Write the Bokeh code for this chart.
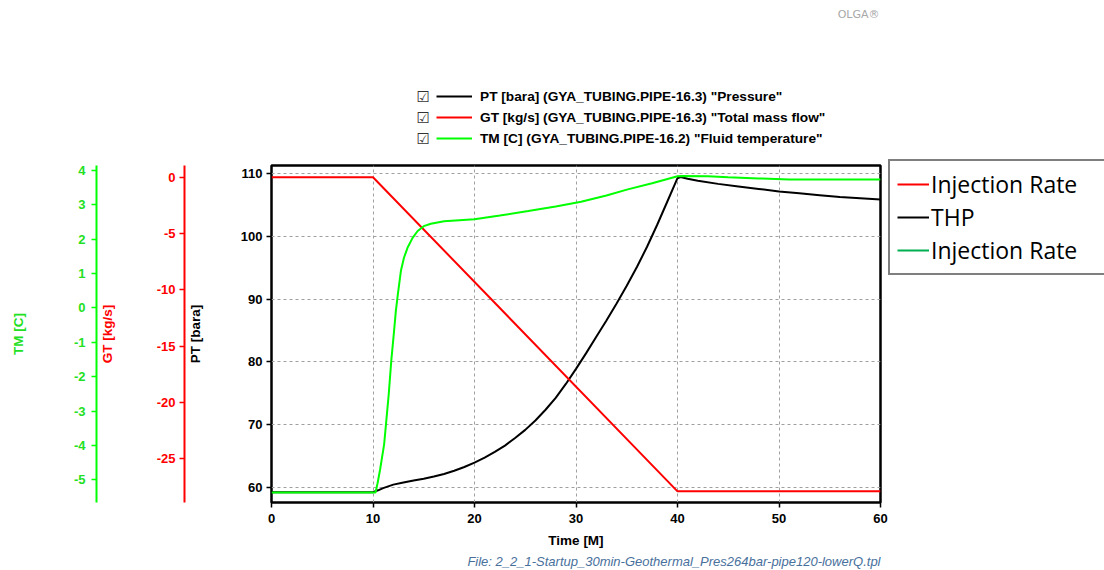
from bokeh.plotting import figure
from bokeh.layouts import column, row
from bokeh.models import (Range1d, LinearAxis, FixedTicker, Legend, LegendItem,
                          Label, Title)
from bokeh.embed import file_html
from bokeh.resources import INLINE

# ---------------- data ----------------
pt_time = [0, 10, 10.5, 11, 12, 13, 14, 15, 16, 17, 18, 19, 20, 21, 22, 23, 24,
           25, 26, 27, 28, 29, 30, 31, 32, 33, 34, 35, 36, 37, 38, 39, 40, 40.3,
           41, 42, 44, 46, 48, 50, 52, 54, 56, 58, 60]
pt_bara = [59.3, 59.3, 59.6, 59.95, 60.5, 60.85, 61.15, 61.45, 61.8, 62.2, 62.7,
           63.3, 64.0, 64.8, 65.7, 66.7, 67.9, 69.2, 70.7, 72.4, 74.3, 76.5, 78.9,
           81.4, 84.0, 86.6, 89.3, 92.1, 95.1, 98.3, 101.8, 105.5, 109.2, 109.4,
           109.1, 108.8, 108.3, 107.9, 107.5, 107.1, 106.8, 106.5, 106.2, 106.0,
           105.8]

gt_time = [0, 10, 40, 60]
gt_kgs = [0.0, 0.0, -27.9, -27.9]

tm_time = [0, 10, 10.25, 10.45, 10.7, 11.1, 11.55, 11.8, 12.05, 12.25, 12.45,
           12.75, 13.05, 13.4, 13.9, 14.4, 15.0, 15.7, 17.0, 20.0, 22.5, 25.3,
           28.0, 30.5, 33.0, 35.1, 37.5, 40.0, 40.4, 43.0, 45.0, 48.0, 51.0, 60.0]
tm_c = [-5.37, -5.37, -5.37, -5.1, -4.7, -3.96, -2.51, -1.54, -0.75, -0.09, 0.4,
        1.08, 1.46, 1.75, 2.04, 2.24, 2.38, 2.45, 2.52, 2.58, 2.69, 2.82, 2.95,
        3.09, 3.27, 3.45, 3.63, 3.83, 3.84, 3.83, 3.80, 3.77, 3.74, 3.74]

x_ticks = [0, 10, 20, 30, 40, 50, 60]
pt_ticks = [60, 70, 80, 90, 100, 110]
gt_ticks = [-25, -20, -15, -10, -5, 0]
tm_ticks = [-5, -4, -3, -2, -1, 0, 1, 2, 3, 4]

top_legend_labels = ['PT [bara] (GYA_TUBING.PIPE-16.3) "Pressure"',
                     'GT [kg/s] (GYA_TUBING.PIPE-16.3) "Total mass flow"',
                     'TM [C] (GYA_TUBING.PIPE-16.2) "Fluid temperature"']
right_legend_labels = ["Injection Rate", "THP", "Injection Rate"]
caption = "File: 2_2_1-Startup_30min-Geothermal_Pres264bar-pipe120-lowerQ.tpl"
brand = "OLGA\u00ae"

# ---------------- styling ----------------
FONT = "Liberation Sans"
GREEN = "#00ff00"
GREEN_TXT = "#22e022"
RED = "#ff0000"
LEFT_W = 888          # header + trend plot width
SIDE_W = 1104 - LEFT_W
HEAD_H = 155
MAIN_H = 570 - HEAD_H
B_LEFT, B_RIGHT = 271, 8


def bare(fig):
    fig.outline_line_color = None
    fig.xgrid.visible = False
    fig.ygrid.visible = False
    fig.background_fill_color = "white"
    fig.border_fill_color = "white"


# ================= header: trend legend with check boxes =================
head = figure(width=LEFT_W, height=HEAD_H, output_backend="svg",
              toolbar_location=None, x_range=Range1d(0, 60),
              y_range=Range1d(57.66, 111.22),
              min_border_left=B_LEFT, min_border_right=B_RIGHT,
              min_border_top=0, min_border_bottom=0,
              x_axis_location=None, y_axis_location=None)
bare(head)
h_pt = head.line(pt_time, pt_bara, line_color="black", line_width=2, visible=False)
h_gt = head.line(gt_time, gt_kgs, line_color=RED, line_width=2, visible=False)
h_tm = head.line(tm_time, tm_c, line_color=GREEN, line_width=2, visible=False)

top_legend = Legend(
    items=[LegendItem(label=top_legend_labels[0], renderers=[h_pt]),
           LegendItem(label=top_legend_labels[1], renderers=[h_gt]),
           LegendItem(label=top_legend_labels[2], renderers=[h_tm])],
    location=(165, 9), orientation="vertical",
    glyph_width=36, glyph_height=16, label_height=16, spacing=5,
    padding=0, margin=0, label_standoff=8,
    border_line_color=None, background_fill_alpha=0, inactive_fill_alpha=0,
    label_text_font=FONT, label_text_font_style="bold",
    label_text_font_size="13.7px", label_text_color="black")
head.add_layout(top_legend)

for yy in (58.3, 37.7, 16.7):
    head.add_layout(Label(x=151.7, y=yy, x_units="screen", y_units="screen",
                          text="\u2611", text_align="center", text_baseline="middle",
                          text_font="DejaVu Sans", text_font_size="15px",
                          text_color="#333333"))

head.add_layout(Label(x=608, y=141, x_units="screen", y_units="screen",
                      text=brand, text_baseline="middle", text_align="right",
                      text_font="DejaVu Sans", text_font_size="11px",
                      text_color="#a8a8a8"))

# ================= main trend plot =================
p = figure(width=LEFT_W, height=MAIN_H, output_backend="svg", toolbar_location=None,
           x_range=Range1d(0, 60), y_range=Range1d(57.66, 111.22),
           min_border_left=B_LEFT, min_border_top=10, min_border_right=B_RIGHT,
           min_border_bottom=68)
p.extra_y_ranges = {"gt": Range1d(-28.89, 1.04), "tm": Range1d(-5.66, 4.145)}
p.background_fill_color = "white"
p.border_fill_color = "white"
p.outline_line_color = "black"
p.outline_line_width = 2.5


def style_axis(ax, color, label_color, standoff_label, standoff_title):
    ax.major_tick_out = 5
    ax.major_tick_in = 0
    ax.minor_tick_line_color = None
    ax.major_tick_line_color = color
    ax.major_tick_line_width = 1.5
    ax.major_label_text_font = FONT
    ax.major_label_text_font_style = "bold"
    ax.major_label_text_font_size = "13px"
    ax.major_label_text_color = label_color
    ax.major_label_standoff = standoff_label
    ax.axis_label_text_font = FONT
    ax.axis_label_text_font_style = "bold"
    ax.axis_label_text_font_size = "13.5px"
    ax.axis_label_text_color = label_color
    ax.axis_label_standoff = standoff_title


xa = p.xaxis[0]
xa.ticker = FixedTicker(ticks=x_ticks)
xa.axis_label = "Time [M]"
style_axis(xa, "black", "black", 6, 7)
xa.axis_line_color = None

ya = p.yaxis[0]
ya.ticker = FixedTicker(ticks=pt_ticks)
ya.axis_label = "PT [bara]"
style_axis(ya, "black", "black", 4, 35)
ya.axis_line_color = None

gt_axis = LinearAxis(y_range_name="gt", ticker=FixedTicker(ticks=gt_ticks),
                     axis_label="GT [kg/s]",
                     major_label_overrides={t: str(t) for t in gt_ticks})
style_axis(gt_axis, RED, RED, 4, 39)
gt_axis.axis_line_color = RED
gt_axis.axis_line_width = 2
p.add_layout(gt_axis, "left")

tm_axis = LinearAxis(y_range_name="tm", ticker=FixedTicker(ticks=tm_ticks),
                     axis_label="TM [C]",
                     major_label_overrides={t: str(t) for t in tm_ticks})
style_axis(tm_axis, GREEN, GREEN_TXT, 6, 45)
tm_axis.axis_line_color = GREEN
tm_axis.axis_line_width = 2
p.add_layout(tm_axis, "left")

for g in (p.xgrid[0], p.ygrid[0]):
    g.grid_line_color = "#a0a0a0"
    g.grid_line_dash = "3 3"
    g.grid_line_width = 1
p.xgrid[0].ticker = FixedTicker(ticks=x_ticks)
p.ygrid[0].ticker = FixedTicker(ticks=pt_ticks)

r_pt = p.line(pt_time, pt_bara, line_color="black", line_width=2)
r_gt = p.line(gt_time, gt_kgs, line_color=RED, line_width=2, y_range_name="gt")
r_tm = p.line(tm_time, tm_c, line_color=GREEN, line_width=2, y_range_name="tm")

p.add_layout(Title(text=caption, align="right", text_font=FONT,
                   text_font_style="italic", text_font_size="13px",
                   text_color="#48709c", standoff=2, offset=0), "below")

# ================= side: slide legend box =================
side = figure(width=SIDE_W, height=570, output_backend="svg",
              toolbar_location=None, x_range=Range1d(0, 60),
              y_range=Range1d(57.66, 111.22), min_border=0,
              x_axis_location=None, y_axis_location=None)
bare(side)
s_inj = side.line(gt_time, gt_kgs, line_color=RED, line_width=2, visible=False)
s_thp = side.line(pt_time, pt_bara, line_color="black", line_width=2, visible=False)
s_inj2 = side.line(tm_time, tm_c, line_color="#00b050", line_width=2, visible=False)

right_legend = Legend(
    items=[LegendItem(label=right_legend_labels[0], renderers=[s_inj]),
           LegendItem(label=right_legend_labels[1], renderers=[s_thp]),
           LegendItem(label=right_legend_labels[2], renderers=[s_inj2])],
    location=(0, 295), orientation="vertical",
    glyph_width=32, glyph_height=20, label_height=26, label_width=200,
    spacing=1, padding=7, margin=0, label_standoff=2,
    border_line_color="black", border_line_width=2,
    background_fill_color="white", background_fill_alpha=1,
    inactive_fill_alpha=0,
    label_text_font="Open Sans", label_text_font_size="23px",
    label_text_color="black")
side.add_layout(right_legend)

layout = row(column(head, p, spacing=0), side, spacing=0)
open("out.html", "w").write(file_html(layout, INLINE))
